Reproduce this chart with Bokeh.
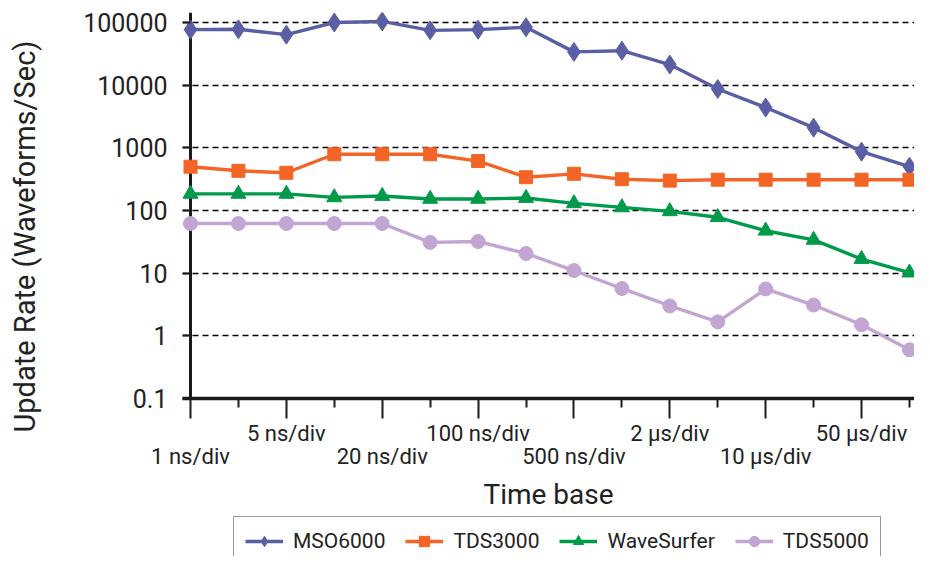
from bokeh.plotting import figure
from bokeh.layouts import column
from bokeh.models import (Range1d, LinearAxis, FixedTicker, CustomJSTickFormatter,
                          Span, Legend, LegendItem, Title)
from bokeh.embed import file_html
from bokeh.resources import INLINE

# ---- data ----
time_bases = ["1 ns/div", "2 ns/div", "5 ns/div", "10 ns/div", "20 ns/div", "50 ns/div",
              "100 ns/div", "200 ns/div", "500 ns/div", "1 µs/div", "2 µs/div", "5 µs/div",
              "10 µs/div", "20 µs/div", "50 µs/div", "100 µs/div"]
mso6000 = [77000, 78000, 64000, 100000, 104000, 75000, 77000, 84000, 34000, 35500,
           21300, 8700, 4400, 2100, 870, 500]
tds3000 = [500, 430, 400, 790, 790, 790, 615, 340, 385, 316, 300, 310, 310, 310, 310, 310]
wavesurfer = [184, 184, 184, 162, 170, 153, 153, 158, 130, 112, 97, 78, 47.5, 34, 16.8, 10.2]
tds5000 = [62, 62, 62, 62, 62, 31, 32, 20.6, 11, 5.7, 3.0, 1.67, 5.6, 3.1, 1.5, 0.6]
series_names = ["MSO6000", "TDS3000", "WaveSurfer", "TDS5000"]
y_ticks = [0.1, 1, 10, 100, 1000, 10000, 100000]
y_title = "Update Rate (Waveforms/Sec)"
x_title = "Time base"

x = list(range(len(time_bases)))
FONT = "Roboto"
TXT = "#222222"
W = 914
H_MAIN = 516
H_LEG = 40
LEFT = 182

p = figure(width=W, height=H_MAIN, y_axis_type="log",
           x_range=Range1d(-0.1669, 15.105), y_range=Range1d(0.1, 1.445e5),
           output_backend="svg", toolbar_location=None, x_axis_location=None,
           min_border_left=LEFT, min_border_right=0, min_border_top=12,
           min_border_bottom=H_MAIN - 398,
           outline_line_color=None, background_fill_color="white")

# y axis
yax = p.yaxis[0]
yax.ticker = FixedTicker(ticks=y_ticks)
yax.formatter = CustomJSTickFormatter(code="return tick >= 1 ? tick.toFixed(0) : String(tick);")
yax.axis_line_color = None
yax.major_tick_in = 8
yax.major_tick_out = 0
yax.major_tick_line_width = 2
yax.major_tick_line_color = "#1a1a1a"
yax.minor_tick_line_color = None
yax.major_label_standoff = 15
yax.major_label_text_font = FONT
yax.major_label_text_font_size = "25px"
yax.major_label_text_color = TXT
# invisible spacer so that the title sits further out
yax.axis_label = " "
yax.axis_label_text_font_size = "1px"
yax.axis_label_standoff = 35

g = p.ygrid[0]
g.ticker = yax.ticker
g.grid_line_color = "black"
g.grid_line_dash = "6 4"
g.grid_line_width = 1.5
for xg in p.xgrid:
    xg.visible = False

# y title (rotated, on the left)
tkw = dict(text=y_title, align="left", offset=-34, vertical_align="bottom",
           text_font=FONT, text_font_size="29px", text_font_style="normal",
           text_color=TXT)
if "standoff" in Title.properties():
    tkw["standoff"] = 0
p.add_layout(Title(**tkw), "left")

# x axes (two staggered rows of labels)
even = [i for i in x if i % 2 == 0]
odd = [i for i in x if i % 2 == 1]
upper = even[1::2]
lower = even[0::2]

ax1 = LinearAxis(ticker=FixedTicker(ticks=even, minor_ticks=odd),
                 major_label_overrides={i: (time_bases[i] if i in upper else "") for i in even},
                 major_tick_out=20, major_tick_in=0, minor_tick_out=9, minor_tick_in=0,
                 axis_line_width=3.5, axis_line_color="#1a1a1a",
                 major_tick_line_width=2, minor_tick_line_width=2,
                 major_tick_line_color="#1a1a1a", minor_tick_line_color="#1a1a1a",
                 major_label_standoff=2, major_label_text_font=FONT,
                 major_label_text_font_size="22px", major_label_text_color=TXT)
p.add_layout(ax1, "below")

ax2 = LinearAxis(ticker=FixedTicker(ticks=lower, minor_ticks=[]),
                 major_label_overrides={i: time_bases[i] for i in lower},
                 axis_line_color=None, major_tick_line_color=None, minor_tick_line_color=None,
                 major_tick_out=0, major_tick_in=0, minor_tick_out=0, minor_tick_in=0,
                 major_label_standoff=-5, major_label_text_font=FONT,
                 major_label_text_font_size="22px", major_label_text_color=TXT,
                 axis_label=x_title, axis_label_standoff=6, axis_label_text_font=FONT,
                 axis_label_text_font_size="28px", axis_label_text_font_style="normal",
                 axis_label_text_color=TXT)
p.add_layout(ax2, "below")

# y axis line at x = 0
p.add_layout(Span(location=0, dimension="height", line_color="#1a1a1a",
                  line_width=3, level="underlay"))

colors = ["#5A5FA5", "#F26526", "#009A4B", "#C2A5D2"]
markers = ["diamond", "square", "triangle", "circle"]
sizes = [19, 13, 15, 14]
data = [mso6000, tds3000, wavesurfer, tds5000]

for name, ys, c, m, s in zip(series_names, data, colors, markers, sizes):
    p.line(x, ys, line_color=c, line_width=3.4)
    p.scatter(x, ys, marker=m, size=s, fill_color=c, line_color=c, line_width=1)

# legend strip below the chart (its data lies outside its ranges, only the legend shows)
q = figure(width=W, height=H_LEG, x_range=Range1d(1000, 1001), y_range=Range1d(1000, 1001),
           output_backend="svg", toolbar_location=None,
           x_axis_location=None, y_axis_location=None,
           min_border=0, min_border_left=0, min_border_right=0,
           min_border_top=0, min_border_bottom=0,
           outline_line_color=None, background_fill_color="white")
for g2 in q.grid:
    g2.visible = False

items = []
for name, ys, c, m, s in zip(series_names, data, colors, markers, sizes):
    rl = q.line(x, ys, line_color=c, line_width=3.4)
    rs = q.scatter(x, ys, marker=m, size=s, fill_color=c, line_color=c)
    items.append(LegendItem(label=name, renderers=[rl, rs]))

legend = Legend(items=items, orientation="horizontal", location=(233 - LEFT, -10),
                glyph_width=38, glyph_height=26, label_standoff=10, spacing=20,
                padding=11, margin=0, border_line_color="#333333", border_line_width=1.5,
                label_text_font=FONT, label_text_font_size="21px", label_text_color=TXT,
                background_fill_color="white")
q.add_layout(legend, "center")

layout = column(p, q, spacing=0)
open("out.html", "w").write(file_html(layout, INLINE))
